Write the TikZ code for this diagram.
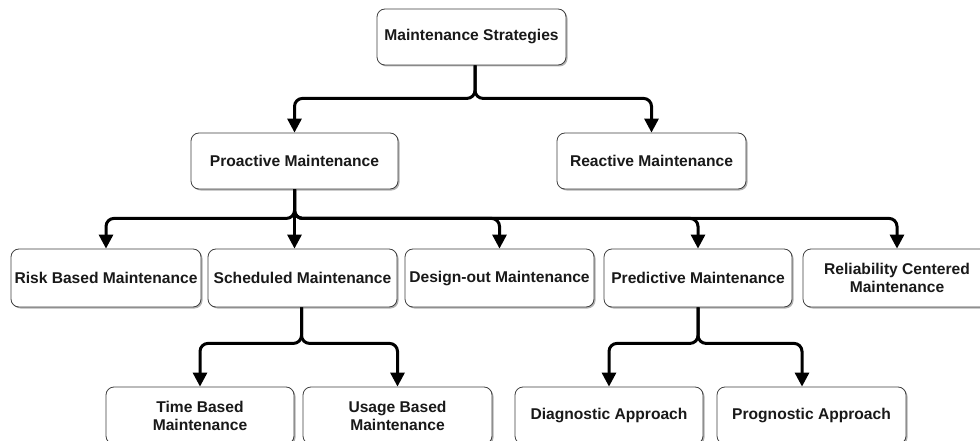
\documentclass[tikz,border=0pt]{standalone}
\usepackage{fontspec}
\setmainfont{Liberation Sans}
\usetikzlibrary{arrows.meta,shadows}
\begin{document}
\begin{tikzpicture}[x=1pt,y=-1pt,
  box/.style={draw=black!75, line width=0.8pt, rounded corners=8pt, fill=white,
    minimum height=57pt, inner sep=1pt, align=center, text=black!90,
    font=\fontsize{15.6}{18}\selectfont\bfseries,
    drop shadow={shadow xshift=1.5pt, shadow yshift=-1.5pt, opacity=0.3, fill=black}},
  conn/.style={draw=black, line width=3pt, rounded corners=8pt,
    -{Triangle[width=14pt,length=14pt]}}]
\path[use as bounding box, clip] (0,0) rectangle (980,441);
\fill[white] (0,0) rectangle (980,441);

\node[box, minimum width=189pt, minimum height=56pt] (ms) at (471.5,37) {Maintenance Strategies};
\node[box, minimum width=207pt, minimum height=56pt] (pro) at (294.5,161) {Proactive Maintenance};
\node[box, minimum width=189pt, minimum height=56pt] (rea) at (651.5,161) {Reactive Maintenance};

\node[box, minimum width=190pt, minimum height=58pt] (risk) at (106,278) {Risk Based Maintenance};
\node[box, minimum width=189pt, minimum height=58pt] (sch) at (302.5,278) {Scheduled Maintenance};
\node[box, minimum width=189pt, minimum height=58pt] (des) at (499.5,278) {Design-out Maintenance};
\node[box, minimum width=188pt, minimum height=58pt] (pred) at (698,278) {Predictive Maintenance};
\node[box, minimum width=188pt, minimum height=58pt] (rel) at (897,278) {Reliability Centered\\Maintenance};

\node[box, minimum width=188pt] (time) at (200,415.5) {Time Based\\Maintenance};
\node[box, minimum width=189pt] (usage) at (397.5,415.5) {Usage Based\\Maintenance};
\node[box, minimum width=188pt] (diag) at (609,415.5) {Diagnostic Approach};
\node[box, minimum width=189pt] (prog) at (811.5,415.5) {Prognostic Approach};

\draw[conn] ([xshift=3.5pt]ms.south) -- ++(0,33) -| (pro.north);
\draw[conn] ([xshift=3.5pt]ms.south) -- ++(0,33) -| (rea.north);

\draw[conn] (pro.south) -- ++(0,29) -| (risk.north);
\draw[conn] (pro.south) -- (pro.south |- sch.north);
\draw[conn] (pro.south) -- ++(0,29) -| (des.north);
\draw[conn] (pro.south) -- ++(0,29) -| (pred.north);
\draw[conn] (pro.south) -- ++(0,29) -| (rel.north);

\draw[conn] ([xshift=-1pt]sch.south) -- ++(0,36) -| (time.north);
\draw[conn] ([xshift=-1pt]sch.south) -- ++(0,36) -| (usage.north);
\draw[conn] (pred.south) -- ++(0,36) -| (diag.north);
\draw[conn] (pred.south) -- ++(0,36) -| ([xshift=-9.5pt]prog.north);
\end{tikzpicture}
\end{document}
